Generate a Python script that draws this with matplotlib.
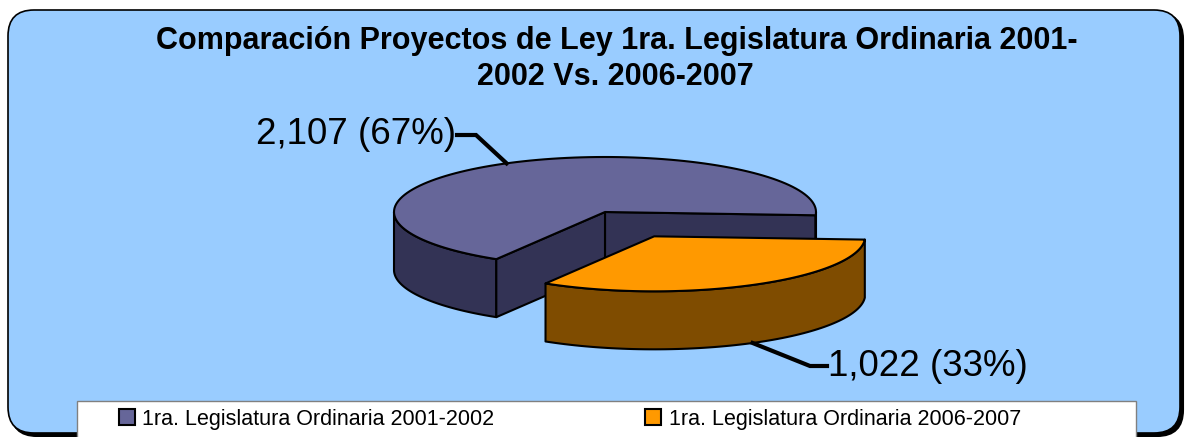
import numpy as np
import matplotlib.pyplot as plt
from matplotlib.patches import Polygon, FancyBboxPatch, Rectangle, Patch

plt.rcParams['font.family'] = ['Liberation Sans', 'DejaVu Sans']

# data
series = ['1ra. Legislatura Ordinaria 2001-2002', '1ra. Legislatura Ordinaria 2006-2007']
values = [2107, 1022]
top_colors = ['#666699', '#FF9900']
side_colors = ['#333355', '#7F4C00']
explode = [0.0, 0.5]
title_lines = ['Comparación Proyectos de Ley 1ra. Legislatura Ordinaria 2001-',
               '2002 Vs. 2006-2007']

# pie geometry (pixel units)
cx, cy = 605, 212
rx, ry = 211, 55
depth = 58
end_angle = 239.0   # angle where first slice ends (counter clockwise)

fig = plt.figure(figsize=(11.86, 4.37), dpi=100)
ax = fig.add_axes([0, 0, 1, 1])
ax.set_xlim(0, 1186)
ax.set_ylim(437, 0)
ax.axis('off')

# background box with shadow
ax.add_patch(FancyBboxPatch((11, 13), 1172, 423, boxstyle='round,pad=0,rounding_size=26',
                            fc='black', ec='black', lw=1.5, zorder=0))
ax.add_patch(FancyBboxPatch((8, 10), 1172, 423, boxstyle='round,pad=0,rounding_size=26',
                            fc='#99CCFF', ec='black', lw=1.2, zorder=1))

total = sum(values)
fracs = [v / total for v in values]
spans = [f * 360 for f in fracs]
# first slice from (end_angle - span0) to end_angle, second continues
a0 = end_angle - spans[0]
angles = [(a0, end_angle), (end_angle, end_angle + spans[1])]


def rim(t, ox, oy, dz=0):
    t = np.radians(t)
    return np.column_stack([ox + rx * np.cos(t), oy - ry * np.sin(t) + dz])


def wall(t1, t2, ox, oy):
    ts = np.linspace(t1, t2, 80)
    top = rim(ts, ox, oy)
    bot = rim(ts[::-1], ox, oy, depth)
    return np.vstack([top, bot])


def face(t, ox, oy):
    p = rim(np.array([t]), ox, oy)[0]
    return np.array([[ox, oy], p, [p[0], p[1] + depth], [ox, oy + depth]])


z = 2
label_pts = []
for i, (t1, t2) in enumerate(angles):
    mid = (t1 + t2) / 2
    ox = cx + explode[i] * rx * np.cos(np.radians(mid))
    oy = cy - explode[i] * ry * np.sin(np.radians(mid))
    sc = side_colors[i]
    kw = dict(fc=sc, ec='black', lw=1.5, joinstyle='round')
    # cut faces that face the viewer
    if np.sin(np.radians(t1 - 90)) < 0:
        ax.add_patch(Polygon(face(t1, ox, oy), zorder=z, **kw)); z += 1
    # outer wall, front part only
    lo, hi = t1, t2
    for k in range(-1, 3):
        a, b = max(lo, 180 + 360 * k), min(hi, 360 + 360 * k)
        if b > a:
            ax.add_patch(Polygon(wall(a, b, ox, oy), zorder=z, **kw)); z += 1
    if np.sin(np.radians(t2 + 90)) < 0:
        ax.add_patch(Polygon(face(t2, ox, oy), zorder=z, **kw)); z += 1
    ts = np.linspace(t1, t2, 120)
    topv = np.vstack([[ox, oy], rim(ts, ox, oy)])
    ax.add_patch(Polygon(topv, fc=top_colors[i], ec='black', lw=1.5, joinstyle='round', zorder=z)); z += 1
    # leader anchor
    p = rim(np.array([mid]), ox, oy)[0]
    if np.sin(np.radians(mid)) < 0:
        p[1] += depth
    label_pts.append(p)

labels = [f'{v:,} ({f * 100:.0f}%)' for v, f in zip(values, fracs)]

# label 1 (left)
p = label_pts[0]
ax.plot([457, 476, p[0]], [135, 135, p[1]], color='black', lw=3, solid_joinstyle='miter', zorder=z)
ax.text(456, 135, labels[0], ha='right', va='center', fontsize=26.5, zorder=z)
# label 2 (right)
p = label_pts[1]
ax.plot([p[0], 810, 827], [p[1], 366, 366], color='black', lw=3, solid_joinstyle='miter', zorder=z)
ax.text(828, 366, labels[1], ha='left', va='center', fontsize=26.5, zorder=z)

ax.text(617, 41, title_lines[0], ha='center', va='center', fontsize=22, fontweight='bold', zorder=z)
ax.text(615, 77, title_lines[1], ha='center', va='center', fontsize=22, fontweight='bold', zorder=z)

# legend
ax.add_patch(Rectangle((77, 401), 1059, 60, fc='white', ec='#808080', lw=1, zorder=z))
handles = [Patch(fc=c, ec='black', lw=1.5) for c in top_colors]
ax.legend(handles, series, ncol=2, frameon=False, fontsize=15.5,
          loc='center', bbox_to_anchor=(570 / 1186, 1 - 419 / 437),
          bbox_transform=fig.transFigure,
          handlelength=0.75, handleheight=0.75, handletextpad=0.35, columnspacing=7.0,
          borderpad=0, borderaxespad=0).set_zorder(z + 1)

fig.savefig('out.png', dpi=100, facecolor='white')
